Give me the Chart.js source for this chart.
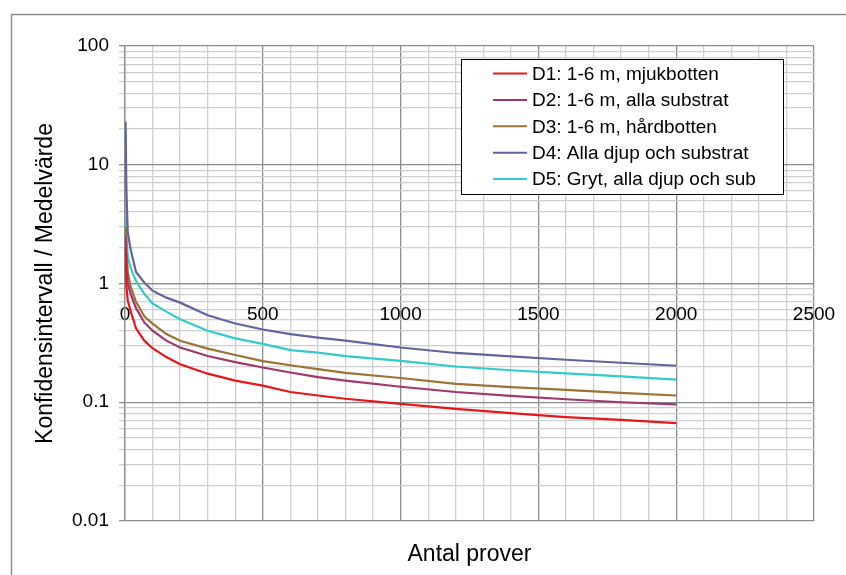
<!DOCTYPE html>
<html>
<head>
<meta charset="utf-8">
<script src="https://cdn.jsdelivr.net/npm/chart.js@4.4.1/dist/chart.umd.min.js"></script>
<style>
  html, body { margin: 0; padding: 0; background: #fff; }
  canvas { display: block; }
</style>
</head>
<body>
<canvas id="chart" width="846" height="575"></canvas>
<script>
// antal prover (x)
const sampleSizes = [2, 5, 10, 20, 40, 70, 100, 150, 200, 300, 400, 500, 600, 700, 800, 1000, 1200, 1400, 1600, 1800, 2000];

const d1 = [2.0, 0.95, 0.72, 0.59, 0.42, 0.33, 0.285, 0.24, 0.209, 0.174, 0.152, 0.138, 0.122, 0.114, 0.107, 0.097, 0.088, 0.081, 0.075, 0.071, 0.0667];
const d2 = [2.5, 1.5, 1.0, 0.82, 0.62, 0.47, 0.4, 0.33, 0.289, 0.245, 0.218, 0.196, 0.178, 0.163, 0.152, 0.135, 0.122, 0.113, 0.106, 0.1, 0.096];
const d3 = [3.0, 1.9, 1.25, 0.95, 0.7, 0.53, 0.46, 0.375, 0.329, 0.283, 0.25, 0.222, 0.205, 0.19, 0.177, 0.16, 0.143, 0.134, 0.127, 0.12, 0.114];
const d4 = [23, 6, 2.7, 1.95, 1.25, 1.02, 0.87, 0.76, 0.69, 0.54, 0.46, 0.41, 0.375, 0.35, 0.33, 0.289, 0.26, 0.243, 0.228, 0.215, 0.203];
const d5 = [19, 2.5, 1.7, 1.35, 1.05, 0.82, 0.68, 0.58, 0.5, 0.4, 0.345, 0.31, 0.275, 0.262, 0.245, 0.223, 0.2, 0.186, 0.175, 0.165, 0.155];

const seriesLabels = [
  'D1: 1-6 m, mjukbotten',
  'D2: 1-6 m, alla substrat',
  'D3: 1-6 m, hårdbotten',
  'D4: Alla djup och substrat',
  'D5: Gryt, alla djup och sub',
];
const seriesColors = ['#e8161b', '#a0376e', '#9b7433', '#62629e', '#30cccc'];

const xTickLabels = ['0', '500', '1000', '1500', '2000', '2500'];
const yDecades = [0.01, 0.1, 1, 10, 100];
const yTickLabels = ['0.01', '0.1', '1', '10', '100'];

const FONT = 'Liberation Sans, Arial, sans-serif';

function toPoints(values) {
  return values.map((v, i) => ({ x: sampleSizes[i], y: v }));
}

function logGridValues() {
  const out = [];
  for (let k = 0; k < yDecades.length - 1; k++) {
    for (let m = 1; m <= 9; m++) out.push(Number((m * yDecades[k]).toPrecision(3)));
  }
  out.push(yDecades[yDecades.length - 1]);
  return out;
}

function isDecade(v) {
  return yDecades.some((d) => Math.abs(d - v) < d * 1e-6);
}

function noSidePadding(scale) {
  scale.paddingLeft = 0;
  scale.paddingRight = 0;
}

const frame = {
  id: 'frame',
  beforeDraw(chart) {
    const c = chart.ctx;
    c.save();
    c.fillStyle = '#fff';
    c.fillRect(0, 0, chart.width, chart.height);
    c.strokeStyle = '#8c8c8c';
    c.lineWidth = 1.5;
    c.beginPath();
    c.moveTo(11.5, chart.height);
    c.lineTo(11.5, 14.5);
    c.lineTo(chart.width, 14.5);
    c.stroke();
    c.restore();
  },
};

const boxLegend = {
  id: 'boxLegend',
  afterDraw(chart) {
    const c = chart.ctx;
    const x = 461.5, y = 59.5, w = 322, h = 135;
    c.save();
    c.fillStyle = '#fff';
    c.fillRect(x, y, w, h);
    c.strokeStyle = '#000';
    c.lineWidth = 1;
    c.strokeRect(x, y, w, h);
    c.font = '19px ' + FONT;
    c.textBaseline = 'middle';
    c.fillStyle = '#000';
    chart.data.datasets.forEach((ds, i) => {
      const ry = 73.5 + i * 26.4;
      c.strokeStyle = ds.borderColor;
      c.lineWidth = 2;
      c.beginPath();
      c.moveTo(493, ry);
      c.lineTo(527, ry);
      c.stroke();
      c.fillText(ds.label, 532, ry + 1);
    });
    c.restore();
  },
};

new Chart(document.getElementById('chart'), {
  type: 'line',
  data: {
    datasets: [d1, d2, d3, d4, d5].map((vals, i) => ({
      label: seriesLabels[i],
      data: toPoints(vals),
      borderColor: seriesColors[i],
      backgroundColor: seriesColors[i],
      borderWidth: 2.2,
      pointRadius: 0,
      tension: 0,
      xAxisID: 'x',
      yAxisID: 'y',
    })),
  },
  options: {
    responsive: false,
    animation: false,
    devicePixelRatio: 1,
    layout: { padding: { left: 12, top: 46, right: 32, bottom: 0 } },
    plugins: {
      legend: { display: false },
      tooltip: { enabled: false },
    },
    scales: {
      x: {
        type: 'linear',
        position: { y: 1 },
        min: 0,
        max: 2500,
        afterFit: noSidePadding,
        ticks: {
          stepSize: 100,
          autoSkip: false,
          maxRotation: 0,
          padding: 20,
          color: '#000',
          font: { family: FONT, size: 19 },
          callback: (v) => (v % 500 === 0 ? xTickLabels[v / 500] : ''),
        },
        grid: {
          drawTicks: false,
          color: (ctx) => (ctx.tick && ctx.tick.value % 500 === 0 ? '#8c8c8c' : '#cfcfcf'),
          lineWidth: 1.3,
        },
        border: { color: '#8c8c8c', width: 1.3 },
      },
      x2: {
        type: 'linear',
        position: 'bottom',
        min: 0,
        max: 2500,
        ticks: { display: false },
        grid: { display: false, drawTicks: false },
        border: { display: false },
        title: {
          display: true,
          text: 'Antal prover',
          color: '#000',
          font: { family: FONT, size: 23 },
          padding: { top: 7, bottom: 7 },
        },
        afterFit(scale) {
          noSidePadding(scale);
          scale.height = 54;
        },
      },
      y: {
        type: 'logarithmic',
        min: 0.01,
        max: 100,
        afterBuildTicks(scale) {
          scale.ticks = logGridValues().map((v) => ({ value: v }));
        },
        afterFit(scale) { scale.width = 113; },
        ticks: {
          autoSkip: false,
          padding: 10,
          color: '#000',
          font: { family: FONT, size: 19 },
          callback: (v) => {
            const i = yDecades.findIndex((d) => Math.abs(d - v) < d * 1e-6);
            return i >= 0 ? yTickLabels[i] : '';
          },
        },
        grid: {
          tickLength: 6,
          color: (ctx) => (ctx.tick && isDecade(ctx.tick.value) ? '#8c8c8c' : '#cfcfcf'),
          lineWidth: 1.3,
        },
        border: { color: '#8c8c8c', width: 1.3 },
        title: {
          display: true,
          text: 'Konfidensintervall / Medelvärde',
          color: '#000',
          font: { family: FONT, size: 23 },
          padding: { top: 20, bottom: 0 },
        },
      },
    },
  },
  plugins: [frame, boxLegend],
});
</script>
</body>
</html>
